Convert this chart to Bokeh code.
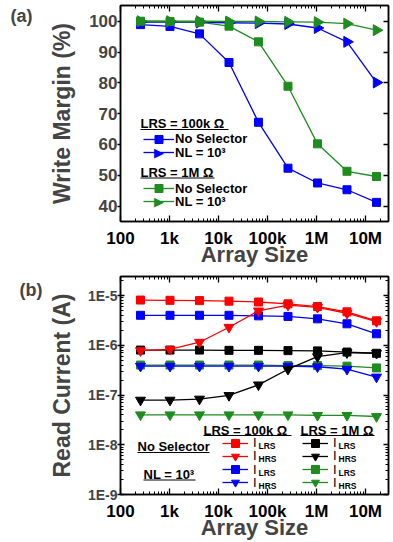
import math
from bokeh.plotting import figure
from bokeh.models import (Legend, LegendItem, Label, BoxAnnotation, FixedTicker,
                          LinearAxis, LogAxis, Range1d)
from bokeh.layouts import column
from bokeh.embed import file_html
from bokeh.resources import INLINE

# ---------------- data ----------------
array_size = [256, 1024, 4096, 16384, 65536, 262144, 1048576, 4194304, 16777216]
x_tick_values = [100, 1000, 10000, 100000, 1000000, 10000000]
x_tick_labels = ["100", "1k", "10k", "100k", "1M", "10M"]

# (a) write margin (%)
wm_100k_nosel = [98.9, 98.3, 95.9, 86.6, 67.2, 52.3, 47.5, 45.3, 41.2]
wm_100k_nl = [99.7, 99.7, 99.6, 99.5, 99.4, 99.1, 97.8, 93.3, 80.1]
wm_1m_nosel = [100.0, 99.9, 99.7, 98.4, 93.3, 78.9, 60.2, 51.3, 49.6]
wm_1m_nl = [100.0, 100.0, 100.0, 99.9, 99.9, 99.8, 99.7, 99.2, 97.1]
wm_tick_values = [40, 50, 60, 70, 80, 90, 100]

# (b) read current (A)
i_lrs_100k_nosel = [8.1e-6, 8.0e-6, 7.9e-6, 7.7e-6, 7.4e-6, 6.8e-6, 6.0e-6, 4.7e-6, 3.1e-6]
i_hrs_100k_nosel = [7.8e-7, 8.3e-7, 1.15e-6, 2.3e-6, 4.9e-6, 6.4e-6, 5.8e-6, 4.4e-6, 3.0e-6]
i_lrs_100k_nl = [4.0e-6, 4.0e-6, 4.0e-6, 4.0e-6, 3.9e-6, 3.8e-6, 3.4e-6, 2.7e-6, 1.7e-6]
i_hrs_100k_nl = [3.8e-7, 3.8e-7, 3.8e-7, 3.8e-7, 3.8e-7, 3.8e-7, 3.7e-7, 3.3e-7, 2.3e-7]
i_lrs_1m_nosel = [8.0e-7, 8.0e-7, 8.0e-7, 7.9e-7, 7.9e-7, 7.8e-7, 7.7e-7, 7.3e-7, 6.9e-7]
i_hrs_1m_nosel = [7.9e-8, 7.9e-8, 8.3e-8, 9.8e-8, 1.6e-7, 3.3e-7, 5.9e-7, 7.1e-7, 6.9e-7]
i_lrs_1m_nl = [4.0e-7, 4.0e-7, 4.0e-7, 4.0e-7, 4.0e-7, 3.9e-7, 3.9e-7, 3.8e-7, 3.5e-7]
i_hrs_1m_nl = [4.0e-8, 4.0e-8, 4.0e-8, 4.0e-8, 4.0e-8, 4.0e-8, 3.9e-8, 3.9e-8, 3.7e-8]
i_tick_values = [1e-9, 1e-8, 1e-7, 1e-6, 1e-5]
i_tick_labels = ["1E-9", "1E-8", "1E-7", "1E-6", "1E-5"]

BLUE = "#0000FF"
GREEN = "#1E8C1E"
RED = "#FF0000"
BLACK = "#000000"
FONT = "Liberation Sans"

x_minor = [m * 10 ** d for d in range(2, 8) for m in range(2, 10)]


def style_common(p):
    p.outline_line_color = BLACK
    p.outline_line_width = 1.5
    p.grid.visible = False
    p.background_fill_color = "white"
    p.border_fill_color = "white"


def hide_labels(ax):
    ax.major_label_text_font_size = "1px"
    ax.major_label_text_alpha = 0
    ax.major_label_standoff = 0


def style_x(ax, labels=True):
    ax.ticker = FixedTicker(ticks=x_tick_values, minor_ticks=x_minor)
    ax.major_tick_in = 6
    ax.major_tick_out = 0
    ax.minor_tick_in = 3
    ax.minor_tick_out = 0
    ax.axis_line_width = 1.5
    ax.major_tick_line_width = 1.3
    if labels:
        ax.major_label_overrides = dict(zip(x_tick_values, x_tick_labels))
        ax.major_label_text_font = FONT
        ax.major_label_text_font_style = "bold"
        ax.major_label_text_font_size = "17px"
        ax.major_label_text_color = BLACK
        ax.major_label_standoff = 7
        ax.axis_label = "Array Size"
        ax.axis_label_text_font = FONT
        ax.axis_label_text_font_style = "bold"
        ax.axis_label_text_font_size = "22px"
        ax.axis_label_standoff = -9
    else:
        hide_labels(ax)


def style_y(ax, label, size, standoff):
    ax.major_tick_out = 3
    ax.axis_line_width = 1.5
    ax.major_tick_line_width = 1.3
    ax.major_label_text_font = FONT
    ax.major_label_text_font_style = "bold"
    ax.major_label_text_font_size = size
    ax.major_label_standoff = 0
    ax.axis_label = label
    ax.axis_label_text_font = FONT
    ax.axis_label_text_font_style = "bold"
    ax.axis_label_text_font_size = "23px"
    ax.axis_label_standoff = standoff


def panel_tag(p, axis_cls, tag, at, standoff):
    # the "(a)"/"(b)" tag, drawn as the only tick label of an empty outer axis
    ax = axis_cls(ticker=FixedTicker(ticks=[at], minor_ticks=[]),
                  axis_line_alpha=0, major_tick_out=0, major_tick_in=0,
                  minor_tick_out=0, minor_tick_in=0,
                  major_label_overrides={at: tag},
                  major_label_text_font=FONT, major_label_text_font_style="bold",
                  major_label_text_font_size="18px", major_label_standoff=standoff)
    p.add_layout(ax, "left")


def underline(p, x0, x1, y):
    p.add_layout(BoxAnnotation(left=x0, right=x1, bottom=y, top=y + 1,
                               left_units="screen", right_units="screen",
                               bottom_units="screen", top_units="screen",
                               fill_color=BLACK, fill_alpha=1, line_alpha=0))


def text(p, x, y, t, size="13px", style="bold", align="left", color=BLACK, font=FONT):
    p.add_layout(Label(x=x, y=y, x_units="screen", y_units="screen", text=t,
                       text_font=font, text_font_style=style, text_font_size=size,
                       text_align=align, text_baseline="middle", text_color=color))


def row_legend(p, label, renderers, x, cy, glyph_w, standoff, size, style):
    # one legend row, vertically centred on cy (screen px above the frame bottom)
    h = 20
    p.add_layout(Legend(items=[LegendItem(label=label, renderers=renderers)],
                        location=(x, cy - h / 2), padding=0, margin=0, spacing=0,
                        glyph_width=glyph_w, glyph_height=h, label_height=h,
                        label_standoff=standoff, background_fill_alpha=0, border_line_alpha=0,
                        label_text_font=FONT, label_text_font_style=style,
                        label_text_font_size=size, label_text_color=BLACK))


# ---------------- (a) ----------------
p1 = figure(width=393, height=271, x_axis_type="log",
            x_range=Range1d(100, 2.95e7), y_range=Range1d(35.0, 105.1),
            output_backend="svg", toolbar_location=None,
            min_border_left=120, min_border_right=5, min_border_top=5, min_border_bottom=50)
style_common(p1)
style_x(p1.xaxis[0])
ya = p1.yaxis[0]
ya.ticker = FixedTicker(ticks=wm_tick_values, minor_ticks=[])
ya.major_tick_in = 0
ya.minor_tick_out = 0
ya.minor_tick_in = 0
style_y(ya, "Write Margin (%)", "17px", 11)
panel_tag(p1, LinearAxis, "(a)", 101.85, 14)

top1 = LogAxis()
style_x(top1, labels=False)
p1.add_layout(top1, "above")
right1 = LinearAxis(ticker=FixedTicker(ticks=wm_tick_values, minor_ticks=[]),
                    major_tick_in=5, major_tick_out=0, minor_tick_in=0, minor_tick_out=0,
                    axis_line_width=1.5, major_tick_line_width=1.3)
hide_labels(right1)
p1.add_layout(right1, "right")

tri_angle = -math.pi / 2
l_a1 = p1.line(array_size, wm_100k_nosel, color=BLUE, line_width=1.3)
s_a1 = p1.scatter(array_size, wm_100k_nosel, marker="square", size=8, color=BLUE)
l_a2 = p1.line(array_size, wm_100k_nl, color=BLUE, line_width=1.3)
s_a2 = p1.scatter(array_size, wm_100k_nl, marker="triangle", angle=tri_angle, size=11, color=BLUE)
l_a3 = p1.line(array_size, wm_1m_nosel, color=GREEN, line_width=1.3)
s_a3 = p1.scatter(array_size, wm_1m_nosel, marker="square", size=8, color=GREEN)
l_a4 = p1.line(array_size, wm_1m_nl, color=GREEN, line_width=1.3)
s_a4 = p1.scatter(array_size, wm_1m_nl, marker="triangle", angle=tri_angle, size=11, color=GREEN)

GL_X, GL_W = 23, 31
row_legend(p1, "No Selector", [l_a1, s_a1], GL_X, 82.5, GL_W, 1, "13px", "bold")
row_legend(p1, "NL = 10³", [l_a2], GL_X, 69, GL_W, 1, "13px", "bold")
text(p1, GL_X + GL_W / 2, 69, "▶", size="13px", style="normal", align="center", color=BLUE,
     font="DejaVu Sans")
row_legend(p1, "No Selector", [l_a3, s_a3], GL_X, 33, GL_W, 1, "13px", "bold")
row_legend(p1, "NL = 10³", [l_a4], GL_X, 20, GL_W, 1, "13px", "bold")
text(p1, GL_X + GL_W / 2, 20, "▶", size="13px", style="normal", align="center", color=GREEN,
     font="DejaVu Sans")
text(p1, 20, 98, "LRS = 100k Ω")
underline(p1, 20, 108, 91.5)
text(p1, 20, 49.5, "LRS = 1M Ω")
underline(p1, 20, 94, 43)

# ---------------- (b) ----------------
p2 = figure(width=393, height=271, x_axis_type="log", y_axis_type="log",
            x_range=Range1d(100, 2.95e7), y_range=Range1d(1e-9, 2.41e-5),
            output_backend="svg", toolbar_location=None,
            min_border_left=120, min_border_right=5, min_border_top=5, min_border_bottom=48)
style_common(p2)
style_x(p2.xaxis[0])
yb = p2.yaxis[0]
y_minor = [m * 10.0 ** d for d in range(-9, -4) for m in range(2, 10)]
yb.ticker = FixedTicker(ticks=i_tick_values, minor_ticks=y_minor)
yb.major_label_overrides = dict(zip(i_tick_values, i_tick_labels))
yb.major_tick_in = 4
yb.minor_tick_out = 0
yb.minor_tick_in = 3
style_y(yb, "Read Current (A)", "14px", 10)
panel_tag(p2, LogAxis, "(b)", 1.32e-5, 3)

top2 = LogAxis()
style_x(top2, labels=False)
p2.add_layout(top2, "above")
right2 = LogAxis(ticker=FixedTicker(ticks=i_tick_values, minor_ticks=y_minor),
                 major_tick_in=5, major_tick_out=0, minor_tick_in=3, minor_tick_out=0,
                 axis_line_width=1.5, major_tick_line_width=1.3)
hide_labels(right2)
p2.add_layout(right2, "right")

series_b = [
    (i_lrs_1m_nl, GREEN, "square"),
    (i_hrs_100k_nl, BLUE, "inverted_triangle"),
    (i_hrs_1m_nl, GREEN, "inverted_triangle"),
    (i_lrs_1m_nosel, BLACK, "square"),
    (i_hrs_1m_nosel, BLACK, "inverted_triangle"),
    (i_lrs_100k_nl, BLUE, "square"),
    (i_lrs_100k_nosel, RED, "square"),
    (i_hrs_100k_nosel, RED, "inverted_triangle"),
]
rend = {}
for ys, c, m in series_b:
    lr = p2.line(array_size, ys, color=c, line_width=1.3)
    sr = p2.scatter(array_size, ys, marker=m, size=8 if m == "square" else 10, color=c)
    rend[id(ys)] = [lr, sr]

row_y = [51.5, 38.5, 25, 12]
sub_names = ["LRS", "HRS", "LRS", "HRS"]
cols = [(102, 26, [i_lrs_100k_nosel, i_hrs_100k_nosel, i_lrs_100k_nl, i_hrs_100k_nl]),
        (182, 26, [i_lrs_1m_nosel, i_hrs_1m_nosel, i_lrs_1m_nl, i_hrs_1m_nl])]
for lx, lw, sers in cols:
    for ys, cy, nm in zip(sers, row_y, sub_names):
        row_legend(p2, "I", rend[id(ys)], lx, cy, lw, 5, "13px", "normal")
        text(p2, lx + lw + 5 + 5, cy - 3, nm, size="8.5px", style="bold")

text(p2, 83, 64.5, "LRS = 100k Ω")
underline(p2, 83, 171, 58.5)
text(p2, 180, 64.5, "LRS = 1M Ω")
underline(p2, 180, 254, 58.5)
text(p2, 17, 48, "No Selector", size="13px")
underline(p2, 17, 89, 41.5)
text(p2, 23, 20.5, "NL = 10³", size="13px")
underline(p2, 23, 75, 14)

layout = column(p1, p2)
open("out.html", "w").write(file_html(layout, INLINE))
